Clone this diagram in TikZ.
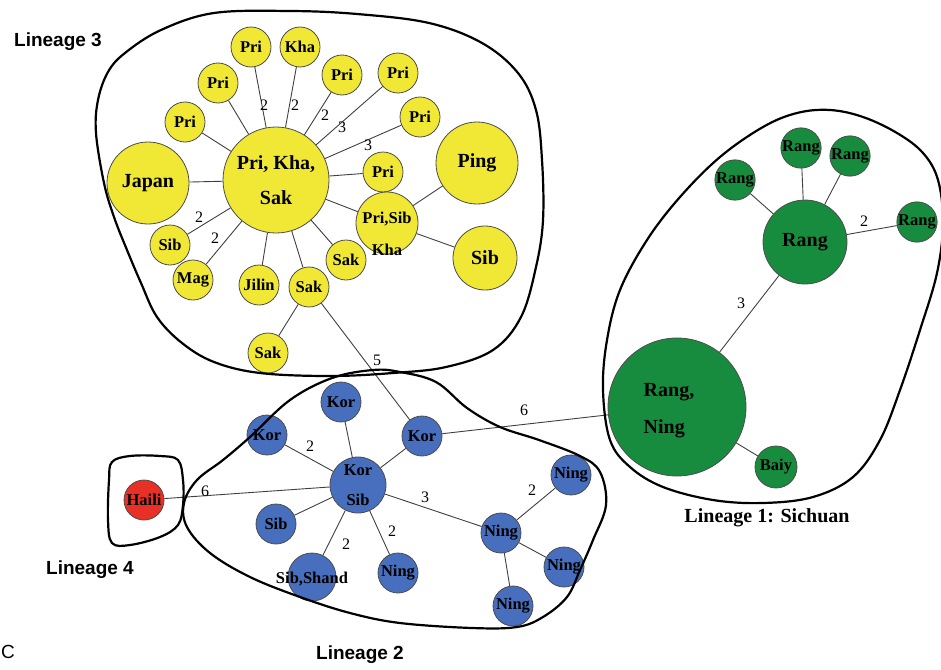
\documentclass[tikz,border=0pt]{standalone}
\usepackage{fontspec}
\setmainfont{Liberation Serif}
\newfontfamily\arialfont{Liberation Sans}
\usepackage{tikz}

\definecolor{hapyellow}{RGB}{240,232,52}
\definecolor{hapblue}{RGB}{72,110,190}
\definecolor{hapgreen}{RGB}{24,140,62}
\definecolor{hapred}{RGB}{232,48,38}

\tikzset{
  hap/.style={circle, draw=black!70, line width=0.8pt, inner sep=0pt, minimum size=40pt, align=center, font=\bfseries\fontsize{16.5}{30}\selectfont},
  bighap/.style={hap, font=\bfseries\fontsize{20}{35}\selectfont},
  yel/.style={hap, fill=hapyellow},
  blu/.style={hap, fill=hapblue},
  grn/.style={hap, fill=hapgreen},
  link/.style={draw=black!75, line width=0.9pt},
  steps/.style={font=\fontsize{16}{16}\selectfont, inner sep=0pt},
  lineage/.style={line width=2.2pt, draw=black},
  title/.style={font=\arialfont\bfseries\fontsize{19}{19}\selectfont, anchor=base}
}

\begin{document}
\begin{tikzpicture}[x=1pt,y=-1pt]
\useasboundingbox (0,0) rectangle (941,669);

% Lineage 3
\node[yel, bighap, minimum size=106pt] (yC) at (276,180) {Pri, Kha,\\Sak};
\node[yel] (yP1) at (251,47) {Pri};
\node[yel] (yK1) at (300,47) {Kha};
\node[yel] (yP2) at (342,75) {Pri};
\node[yel] (yP3) at (398,73) {Pri};
\node[yel] (yP4) at (420,117) {Pri};
\node[yel] (yP5) at (218,83) {Pri};
\node[yel] (yP6) at (185,122) {Pri};
\node[yel] (yP7) at (383,172) {Pri};
\node[yel, bighap, minimum size=82pt] (yJap) at (148,183) {Japan};
\node[yel, bighap, minimum size=82pt] (yPing) at (477,163) {Ping};
\node[yel, minimum size=62pt, label={[align=center, font=\bfseries\fontsize{16.5}{32}\selectfont, yshift=-11pt]center:Pri,Sib\\Kha}] (yPSK) at (387,223) {};
\node[yel, bighap, minimum size=64pt] (ySib1) at (485,258) {Sib};
\node[yel] (ySib2) at (170,245) {Sib};
\node[yel] (yMag) at (193,280) {Mag};
\node[yel] (yJil) at (259,285) {Jilin};
\node[yel] (ySak1) at (309,287) {Sak};
\node[yel] (ySak2) at (346,260) {Sak};
\node[yel] (ySak3) at (268,353) {Sak};

% Lineage 2 and 4
\node[blu] (bKT) at (341,402) {Kor};
\node[blu] (bKL) at (267,435) {Kor};
\node[blu] (bKR) at (422,436) {Kor};
\node[blu, minimum size=56pt] (bKS) at (358,485) {Kor\\Sib};
\node[blu] (bSib) at (276,524) {Sib};
\node[blu, minimum size=48pt, label={[font=\bfseries\fontsize{16.5}{16.5}\selectfont, yshift=-2pt]center:Sib,Shand}] (bSS) at (312,577) {};
\node[blu] (bN1) at (398,573) {Ning};
\node[blu] (bNM) at (501,533) {Ning};
\node[blu] (bNT) at (571,475) {Ning};
\node[blu] (bNR) at (564,567) {Ning};
\node[blu] (bNB) at (513,606) {Ning};
\node[hap, fill=hapred] (rH) at (144,500) {Haili};

% Lineage 1
\node[grn, bighap, minimum size=84pt] (gRB) at (805,242) {Rang};
\node[grn] (gRL) at (735,180) {Rang};
\node[grn] (gRT) at (801,148) {Rang};
\node[grn] (gRTR) at (850,156) {Rang};
\node[grn] (gRR) at (917,222) {Rang};
\node[grn, minimum size=138pt, label={[align=left, font=\bfseries\fontsize{20}{37}\selectfont, xshift=-8pt, yshift=-4pt]center:Rang,\\Ning}] (gRN) at (677,407) {};
\node[grn, minimum size=42pt] (gBa) at (776,467) {Baiy};

% links
\draw[link] (yC) -- (yP1);
\node[steps] (s1) at (264,105) {2};
\draw[link] (yC) -- (yK1);
\node[steps] (s2) at (295,105) {2};
\draw[link] (yC) -- (yP2);
\node[steps] (s3) at (325,115) {2};
\draw[link] (yC) -- (yP3);
\node[steps] (s4) at (342,127) {3};
\draw[link] (yC) -- (yP4);
\node[steps] (s5) at (368,145) {3};
\draw[link] (yC) -- (yP5);
\draw[link] (yC) -- (yP6);
\draw[link] (yC) -- (yP7);
\draw[link] (yC) -- (yJap);
\draw[link] (yC) -- (yPSK);
\draw[link] (yPSK) -- (yPing);
\draw[link] (yPSK) -- (ySib1);
\draw[link] (yC) -- (ySib2);
\node[steps] (s6) at (199,217) {2};
\draw[link] (yC) -- (yMag);
\node[steps] (s7) at (215,238) {2};
\draw[link] (yC) -- (yJil);
\draw[link] (yC) -- (ySak1);
\draw[link] (yC) -- (ySak2);
\draw[link] (ySak1) -- (ySak3);
\draw[link] (ySak1) -- (bKR);
\node[steps] (s8) at (377,360) {5};

\draw[link] (bKS) -- (bKT);
\draw[link] (bKS) -- (bKL);
\node[steps] (s9) at (310,446) {2};
\draw[link] (bKS) -- (bKR);
\draw[link] (bKS) -- (bSib);
\draw[link] (bKS) -- (bSS);
\node[steps] (s10) at (346,544) {2};
\draw[link] (bKS) -- (bN1);
\node[steps] (s11) at (392,531) {2};
\draw[link] (bKS) -- (bNM);
\node[steps] (s12) at (425,497) {3};
\draw[link] (bNM) -- (bNT);
\node[steps] (s13) at (532,490) {2};
\draw[link] (bNM) -- (bNR);
\draw[link] (bNM) -- (bNB);
\draw[link] (rH) -- (bKS);
\node[steps] (s14) at (205,491) {6};
\draw[link] (bKR) -- (gRN);
\node[steps] (s15) at (524,410) {6};

\draw[link] (gRB) -- (gRL);
\draw[link] (gRB) -- (gRT);
\draw[link] (gRB) -- (gRTR);
\draw[link] (gRB) -- (gRR);
\node[steps] (s16) at (864,221) {2};
\draw[link] (gRB) -- (gRN);
\node[steps] (s17) at (741,303) {3};
\draw[link] (gRN) -- (gBa);

% lineage outlines
\draw[lineage] plot[smooth cycle, tension=0.6] coordinates {(214,13) (290,11) (357,14) (429,23) (482,43) (518,73) (536,110) (542,160) (543,220) (536,267) (521,317) (493,350) (446,367) (393,373) (330,376) (260,373) (214,362) (182,343) (157,317) (141,283) (127,250) (114,217) (104,183) (96,133) (98,100) (108,72) (125,53) (161,30)};
\draw[lineage] plot[smooth cycle, tension=0.6] coordinates {(250,437) (290,400) (332,378) (373,370) (400,372) (436,382) (467,408) (500,427) (539,440) (580,456) (600,472) (606,505) (593,540) (580,570) (567,597) (543,617) (517,627) (472,628) (400,623) (350,613) (300,597) (250,577) (210,553) (187,527) (184,503) (197,480) (223,460)};
\draw[lineage] plot[smooth cycle, tension=0.6] coordinates {(830,110) (863,117) (897,133) (923,153) (938,180) (943,223) (937,273) (920,330) (900,390) (880,440) (853,477) (813,497) (763,503) (713,500) (663,487) (630,467) (610,440) (603,390) (607,340) (620,290) (647,240) (680,197) (720,157) (763,127) (797,113)};
\draw[lineage] plot[smooth cycle, tension=0.6] coordinates {(109,480) (112,462) (130,456) (160,456) (178,460) (183,480) (183,505) (178,525) (160,537) (130,545) (112,543) (108,520)};

\node[title] (t3) at (58,47) {Lineage 3};
\node[title] (t4) at (90,574) {Lineage 4};
\node[title] (t2) at (360,659) {Lineage 2};
\node[title, font=\bfseries\fontsize{20}{20}\selectfont] (t1) at (767,522) {Lineage 1: Sichuan};
\node[title, font=\arialfont\fontsize{19}{19}\selectfont, anchor=base west, inner sep=1pt] (tC) at (0,658) {C};
\end{tikzpicture}
\end{document}
